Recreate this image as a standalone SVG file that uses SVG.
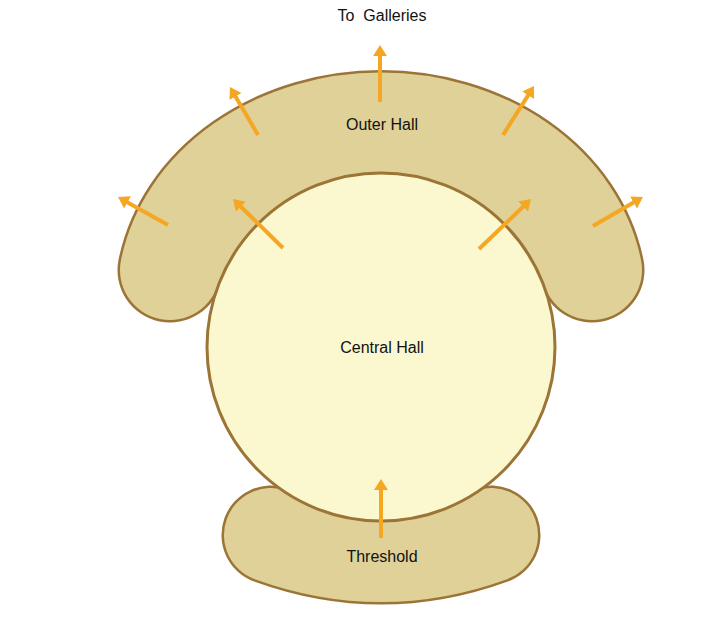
<svg xmlns="http://www.w3.org/2000/svg" width="711" height="618" viewBox="0 0 711 618">
<style>
.band-out{fill:none;stroke:#9b7436;stroke-linecap:round}
.band-in{fill:none;stroke:#dfd197;stroke-linecap:round}
.lbl{font-family:"Liberation Sans",Arial,sans-serif;font-size:16px;fill:#111;text-anchor:middle}
.arr{stroke:#f5a623;stroke-width:4;fill:none;marker-end:url(#ah)}
</style>
<defs>
<marker id="ah" viewBox="0 0 11 14" refX="5" refY="7" markerWidth="11" markerHeight="14" markerUnits="userSpaceOnUse" orient="auto">
<path d="M0,0 L11,7 L0,14 z" fill="#f5a623"/>
</marker>
</defs>
<rect width="711" height="618" fill="#ffffff"/>
<g id="outer-hall">
<path class="band-out" stroke-width="105" d="M170,270 A214,177 0 0 1 592,270"/>
<ellipse cx="381" cy="300" rx="166" ry="129" fill="#dfd197"/>
<path class="band-in" stroke-width="100" d="M170,270 A214,177 0 0 1 592,270"/>
</g>
<g id="threshold">
<path class="band-out" stroke-width="99" d="M271,535 Q381,575 491,535"/>
<path class="band-in" stroke-width="94" d="M271,535 Q381,575 491,535"/>
</g>
<g id="central-hall">
<circle cx="381" cy="347" r="174" fill="#fbf8cf" stroke="#9b7436" stroke-width="3"/>
</g>
<g id="connectors">
<line class="arr" x1="380" y1="102" x2="380" y2="51"/>
<line class="arr" x1="258" y1="135" x2="233" y2="92.2"/>
<line class="arr" x1="168" y1="225" x2="123.2" y2="199.9"/>
<line class="arr" x1="283" y1="248" x2="237.3" y2="203.2"/>
<line class="arr" x1="503" y1="135" x2="530.8" y2="91.1"/>
<line class="arr" x1="593" y1="226" x2="637.8" y2="200"/>
<line class="arr" x1="479" y1="249" x2="526.7" y2="203.2"/>
<line class="arr" x1="381" y1="538" x2="381" y2="485"/>
</g>
<g id="labels">
<text class="lbl" x="382" y="21" xml:space="preserve">To  Galleries</text>
<text class="lbl" x="382" y="130">Outer Hall</text>
<text class="lbl" x="382" y="353">Central Hall</text>
<text class="lbl" x="382" y="562">Threshold</text>
</g>
</svg>
